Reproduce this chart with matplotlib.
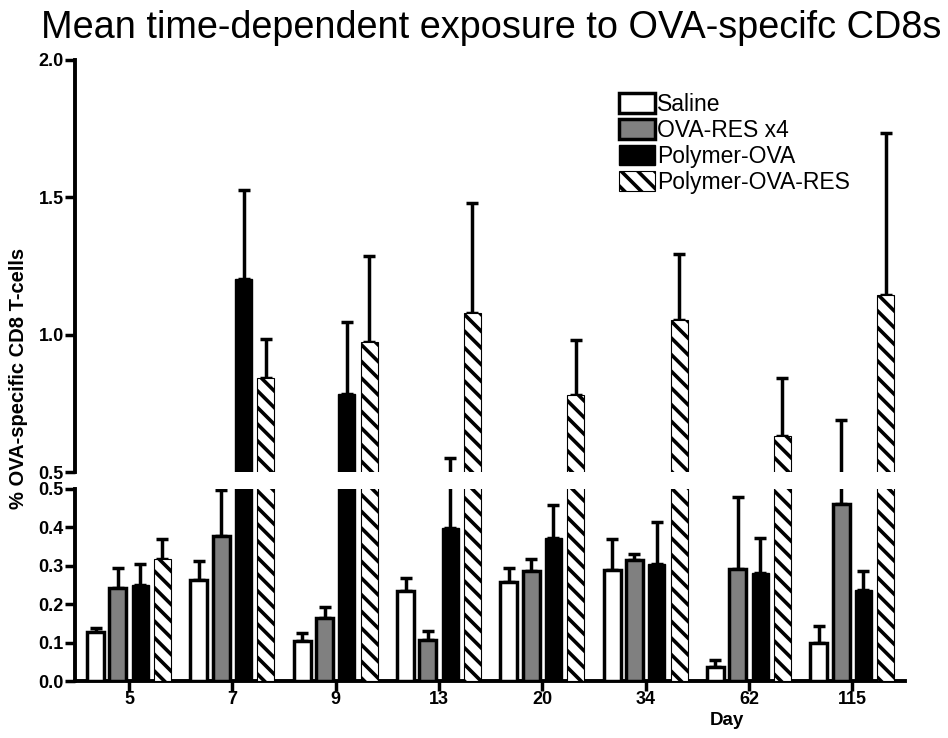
import matplotlib
matplotlib.use('Agg')
import matplotlib.pyplot as plt
import matplotlib.patches as mpatches
import numpy as np

plt.rcParams['font.family'] = ['Liberation Sans', 'DejaVu Sans']
plt.rcParams['hatch.linewidth'] = 2.6

days = ['5', '7', '9', '13', '20', '34', '62', '115']
groups = ['Saline', 'OVA-RES x4', 'Polymer-OVA', 'Polymer-OVA-RES']

saline = [0.128, 0.263, 0.105, 0.234, 0.257, 0.289, 0.037, 0.099]
saline_sem = [0.011, 0.049, 0.021, 0.034, 0.037, 0.080, 0.018, 0.045]
ova_res = [0.241, 0.378, 0.163, 0.106, 0.286, 0.315, 0.292, 0.462]
ova_res_sem = [0.052, 0.119, 0.029, 0.025, 0.031, 0.015, 0.186, 0.226]
poly_ova = [0.249, 1.204, 0.784, 0.399, 0.373, 0.305, 0.282, 0.236]
poly_ova_sem = [0.055, 0.324, 0.263, 0.151, 0.085, 0.110, 0.091, 0.050]
poly_ova_res = [0.317, 0.841, 0.972, 1.079, 0.780, 1.055, 0.631, 1.146]
poly_ova_res_sem = [0.052, 0.143, 0.313, 0.399, 0.200, 0.237, 0.210, 0.589]

means = [saline, ova_res, poly_ova, poly_ova_res]
sems = [saline_sem, ova_res_sem, poly_ova_sem, poly_ova_res_sem]
styles = [
    dict(color='white', edgecolor='black', linewidth=2.5),
    dict(color='#808080', edgecolor='black', linewidth=2.5),
    dict(color='black', edgecolor='black', linewidth=1.0),
    dict(color='white', edgecolor='black', linewidth=0.8, hatch='\\\\'),
]

fig = plt.figure(figsize=(9.48, 7.38), dpi=100)
ax_top = fig.add_axes([0.0791, 0.3604, 0.8755, 0.5583])
ax_bot = fig.add_axes([0.0791, 0.0772, 0.8755, 0.2602])

x = np.arange(len(days))
step = 0.216
width = 0.165
brk = 0.5

for ax in (ax_top, ax_bot):
    for i, (m, s, st) in enumerate(zip(means, sems, styles)):
        m = np.array(m)
        s = np.array(s)
        xs = x + (i - 1.5) * step
        ax.bar(xs, m, width=width, zorder=3, **st)
        if ax is ax_top:
            # only error bars that reach above the break show in the upper panel
            keep = m + s > brk
            xs, m, s = xs[keep], m[keep], s[keep]
        ax.errorbar(xs, m, yerr=[np.zeros(len(m)), s], fmt='none', ecolor='black',
                    elinewidth=2.5, capsize=4, capthick=2.5, zorder=2)
    ax.set_xlim(-0.523, 7.51)
    for sp in ('top', 'right'):
        ax.spines[sp].set_visible(False)
    ax.spines['left'].set_linewidth(2.8)
    ax.tick_params(axis='y', length=7, width=2.5, labelsize=13, pad=1)

ax_top.set_ylim(brk, 2.0)
ax_top.set_yticks([0.5, 1.0, 1.5, 2.0])
ax_top.set_yticklabels(['0.5', '1.0', '1.5', '2.0'], fontweight='bold')
ax_top.spines['bottom'].set_visible(False)
ax_top.set_xticks([])

ax_bot.set_ylim(0.0, brk)
ax_bot.set_yticks([0.0, 0.1, 0.2, 0.3, 0.4, 0.5])
ax_bot.set_yticklabels(['0.0', '0.1', '0.2', '0.3', '0.4', '0.5'], fontweight='bold')
ax_bot.spines['bottom'].set_linewidth(2.8)
ax_bot.set_xticks(x)
ax_bot.set_xticklabels(days, fontweight='bold')
ax_bot.tick_params(axis='x', length=7, width=2.5, labelsize=13, pad=0.5)

handles = [mpatches.Patch(facecolor=st['color'], edgecolor=st['edgecolor'],
                          linewidth=st['linewidth'], hatch=st.get('hatch'))
           for st in styles]
fig.legend(handles, groups, loc='upper left', bbox_to_anchor=(0.653, 0.874),
           frameon=False, fontsize=16.5, handlelength=1.55, handleheight=0.95,
           handletextpad=0.12, labelspacing=0.13, borderpad=0, borderaxespad=0)

fig.text(0.518, 0.962, 'Mean time-dependent exposure to OVA-specifc CD8s',
         ha='center', va='center', fontsize=27.3)
fig.text(0.019, 0.487, '% OVA-specific CD8 T-cells', rotation=90,
         ha='center', va='center', fontsize=14.5, fontweight='bold')
fig.text(0.767, 0.024, 'Day', ha='center', va='center', fontsize=13.5,
         fontweight='bold')

fig.savefig('out.png', dpi=100)
